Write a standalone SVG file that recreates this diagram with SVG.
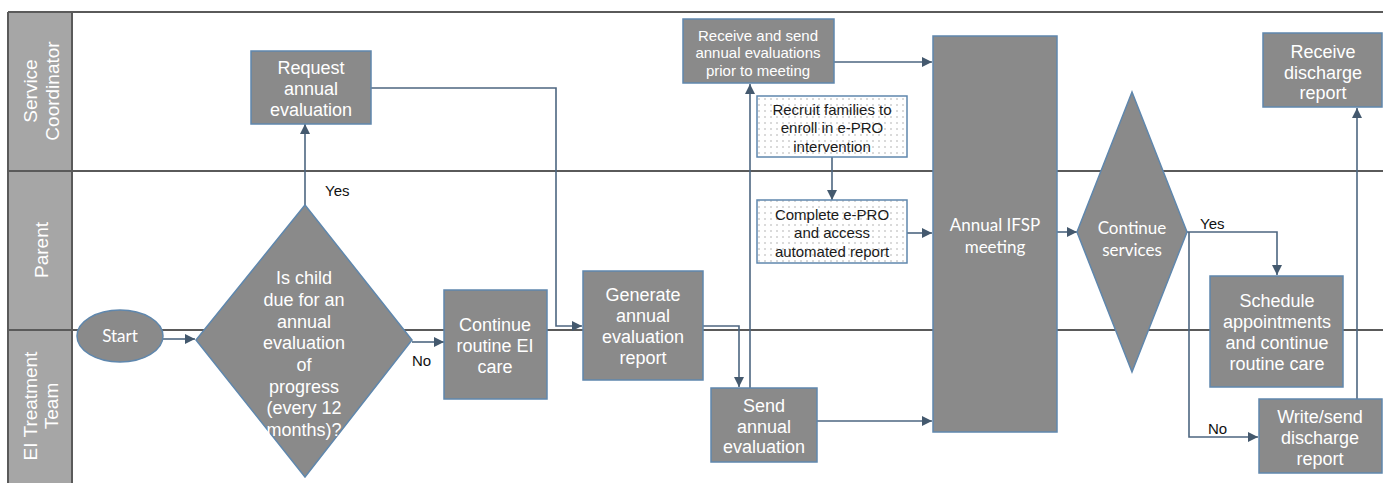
<svg xmlns="http://www.w3.org/2000/svg" width="1383" height="483" viewBox="0 0 1383 483">
<style>
.box{fill:#8a8a8a;stroke:#5f87ad;stroke-width:1.5}
.dot{fill:url(#dots);stroke:#5f87ad;stroke-width:1.5}
.t{font-family:"Liberation Sans",Arial,sans-serif;font-size:18px;fill:#ffffff;text-anchor:middle}
.ts{font-family:"Liberation Sans",Arial,sans-serif;font-size:15px;fill:#ffffff;text-anchor:middle}
.tk{font-family:"Liberation Sans",Arial,sans-serif;font-size:15px;fill:#1a1a1a;text-anchor:middle}
.tc{font-family:Lato,"Open Sans",sans-serif;fill:#ffffff;text-anchor:middle}
.lane{font-family:"Liberation Sans",Arial,sans-serif;font-size:19px;fill:#ffffff;text-anchor:middle}
.lbl{font-family:"Liberation Sans",Arial,sans-serif;font-size:15px;fill:#111111}
.ca{fill:none;stroke:#4d6680;stroke-width:1.6;marker-end:url(#ah)}
.ll{stroke:#5a5a5a;stroke-width:2;fill:none}
</style>
<defs>
<marker id="ah" viewBox="0 0 10 10" refX="10" refY="5" markerWidth="10" markerHeight="10" markerUnits="userSpaceOnUse" orient="auto">
<path d="M0,0 L10,5 L0,10 Z" fill="#44596e"/>
</marker>
<pattern id="dots" width="6" height="6" patternUnits="userSpaceOnUse">
<rect width="6" height="6" fill="#ffffff"/>
<circle cx="3" cy="3" r="0.7" fill="#9a9a9a"/>
</pattern>
</defs>

<g id="lanes">
<rect x="8" y="12" width="64" height="471" fill="#a6a6a6"/>
<line class="ll" x1="8" y1="12" x2="1383" y2="12"/>
<line class="ll" x1="8" y1="171" x2="1383" y2="171"/>
<line class="ll" x1="8" y1="330" x2="1383" y2="330"/>
<line class="ll" x1="8" y1="12" x2="8" y2="483"/>
<line class="ll" x1="72" y1="12" x2="72" y2="483"/>
<text class="lane" transform="translate(37,91) rotate(-90)">Service</text>
<text class="lane" transform="translate(59,91) rotate(-90)">Coordinator</text>
<text class="lane" transform="translate(48,250) rotate(-90)">Parent</text>
<text class="lane" transform="translate(37,406) rotate(-90)">EI Treatment</text>
<text class="lane" transform="translate(58,406) rotate(-90)">Team</text>
</g>

<g id="connectors">
<path class="ca" d="M163,339 L195,339"/>
<path class="ca" d="M305,205 L305,124"/>
<path class="ca" d="M412,342 L444,342"/>
<path class="ca" d="M371,88 L556,88 L556,326 L582,326"/>
<path class="ca" d="M703,326 L739,326 L739,387"/>
<path class="ca" d="M750,388 L750,84"/>
<path class="ca" d="M834,62 L932,62"/>
<path class="ca" d="M832,157 L832,200"/>
<path class="ca" d="M907,233 L932,233"/>
<path class="ca" d="M817,421 L932,421"/>
<path class="ca" d="M1057,232 L1077,232"/>
<path class="ca" d="M1187,232 L1277,232 L1277,275"/>
<path class="ca" d="M1189,232 L1189,437 L1258,437"/>
<path class="ca" d="M1357,399 L1357,108"/>
<text class="lbl" x="325" y="196">Yes</text>
<text class="lbl" x="412" y="366">No</text>
<text class="lbl" x="1200" y="229">Yes</text>
<text class="lbl" x="1208" y="434">No</text>
</g>

<g id="start">
<ellipse class="box" cx="120" cy="336" rx="43" ry="26"/>
<text class="tc" x="120" y="342" font-size="17">Start</text>
</g>

<g id="due-decision">
<polygon class="box" points="305,205 412,340 305,477 196,340"/>
<text class="t" x="304" y="284">Is child</text>
<text class="t" x="304" y="306">due for an</text>
<text class="t" x="304" y="328">annual</text>
<text class="t" x="304" y="349">evaluation</text>
<text class="t" x="304" y="371">of</text>
<text class="t" x="304" y="393">progress</text>
<text class="t" x="304" y="414">(every 12</text>
<text class="t" x="304" y="436">months)?</text>
</g>

<g id="request">
<rect class="box" x="251" y="51" width="120" height="73"/>
<text class="t" x="311" y="74">Request</text>
<text class="t" x="311" y="95">annual</text>
<text class="t" x="311" y="116">evaluation</text>
</g>

<g id="continue-routine">
<rect class="box" x="444" y="290" width="103" height="109"/>
<text class="t" x="495" y="331">Continue</text>
<text class="t" x="495" y="352">routine EI</text>
<text class="t" x="495" y="373">care</text>
</g>

<g id="generate">
<rect class="box" x="583" y="271" width="120" height="109"/>
<text class="t" x="643" y="301">Generate</text>
<text class="t" x="643" y="322">annual</text>
<text class="t" x="643" y="343">evaluation</text>
<text class="t" x="643" y="364">report</text>
</g>

<g id="send">
<rect class="box" x="711" y="388" width="106" height="74"/>
<text class="t" x="764" y="412">Send</text>
<text class="t" x="764" y="433">annual</text>
<text class="t" x="764" y="453">evaluation</text>
</g>

<g id="receive-send">
<rect class="box" x="683" y="19" width="151" height="64"/>
<text class="ts" x="758" y="41">Receive and send</text>
<text class="ts" x="758" y="58">annual evaluations</text>
<text class="ts" x="758" y="76">prior to meeting</text>
</g>

<g id="recruit">
<rect class="dot" x="757" y="96" width="150" height="61"/>
<text class="tk" x="832" y="115">Recruit families to</text>
<text class="tk" x="832" y="133">enroll in e-PRO</text>
<text class="tk" x="832" y="152">intervention</text>
</g>

<g id="complete">
<rect class="dot" x="757" y="200" width="150" height="63"/>
<text class="tk" x="832" y="220">Complete e-PRO</text>
<text class="tk" x="832" y="238">and access</text>
<text class="tk" x="832" y="257">automated report</text>
</g>

<g id="ifsp">
<rect class="box" x="933" y="36" width="124" height="396"/>
<text class="tc" x="995" y="231" font-size="17">Annual IFSP</text>
<text class="tc" x="995" y="253" font-size="17">meeting</text>
</g>

<g id="continue-decision">
<polygon class="box" points="1132,92 1187,232 1132,372 1077,232"/>
<text class="tc" x="1132" y="234" font-size="17">Continue</text>
<text class="tc" x="1132" y="256" font-size="17">services</text>
</g>

<g id="schedule">
<rect class="box" x="1210" y="276" width="133" height="111"/>
<text class="t" x="1277" y="307">Schedule</text>
<text class="t" x="1277" y="328">appointments</text>
<text class="t" x="1277" y="349">and continue</text>
<text class="t" x="1277" y="370">routine care</text>
</g>

<g id="write-send">
<rect class="box" x="1259" y="399" width="123" height="74"/>
<text class="t" x="1320" y="423">Write/send</text>
<text class="t" x="1320" y="444">discharge</text>
<text class="t" x="1320" y="465">report</text>
</g>

<g id="receive-discharge">
<rect class="box" x="1263" y="33" width="119" height="74"/>
<text class="t" x="1323" y="58">Receive</text>
<text class="t" x="1323" y="79">discharge</text>
<text class="t" x="1323" y="99">report</text>
</g>
</svg>
